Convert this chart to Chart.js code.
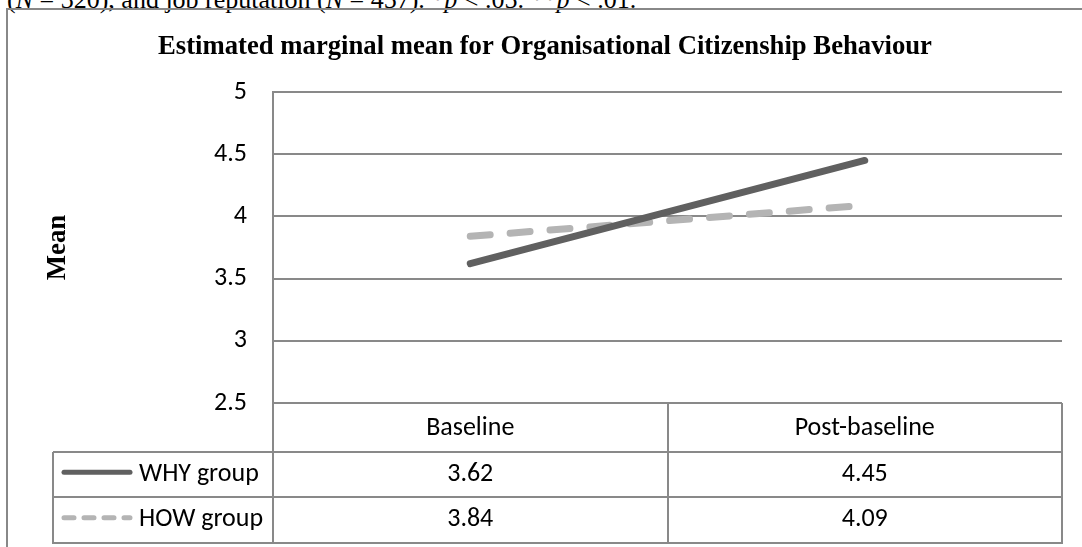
<!DOCTYPE html>
<html>
<head>
<meta charset="utf-8">
<script src="https://cdn.jsdelivr.net/npm/chart.js@4.4.1/dist/chart.umd.min.js"></script>
<style>
  html, body { margin: 0; padding: 0; background: #fff; }
  #page { position: relative; width: 1082px; height: 547px; overflow: hidden; }
  #note {
    position: absolute; left: 7px; top: -13px; white-space: nowrap;
    font: 26px/26px "Liberation Serif", "Times New Roman", serif; color: #000;
  }
  #frame {
    position: absolute; left: 6px; top: 8px; right: -10px; bottom: -10px;
    border-left: 2px solid #888; border-top: 2px solid #888;
  }
  #wrap { position: absolute; left: 0; top: 0; width: 1082px; height: 547px; }
</style>
</head>
<body>
<div id="page">
  <div id="note">(<i>N</i> = 320), and job reputation (<i>N</i> = 457). *<i>p</i> &lt; .05. **<i>p</i> &lt; .01.</div>
  <div id="frame"></div>
  <div id="wrap"><canvas id="chart"></canvas></div>
</div>
<script>
// Estimated marginal means, two groups measured at two time points
const categories = ['Baseline', 'Post-baseline'];
const seriesNames = ['WHY group', 'HOW group'];
const whyGroup = [3.62, 4.45];
const howGroup = [3.84, 4.09];
const yTicks = [2.5, 3, 3.5, 4, 4.5, 5];
const yTickLabels = ['2.5', '3', '3.5', '4', '4.5', '5'];

const gridColor = '#898989';
const whyColor = '#606060';
const howColor = '#b4b4b4';
const sansFont = 'Carlito, Calibri, Lato, sans-serif';
const serifFont = '"Liberation Serif", "Times New Roman", serif';

// Data table under the plot: header row with categories, one row per series
const dataTable = {
  id: 'dataTable',
  afterDraw(chart) {
    const { ctx, chartArea, scales } = chart;
    const x = scales.x;
    const left = chartArea.left, right = chartArea.right;
    const mid = (x.getPixelForValue(0) + x.getPixelForValue(1)) / 2;
    const keyLeft = 53;
    const rows = [chartArea.bottom, chartArea.bottom + 48.5, chartArea.bottom + 94, chartArea.bottom + 139.5];
    const series = chart.data.datasets;

    ctx.save();
    ctx.strokeStyle = gridColor;
    ctx.lineWidth = 2;
    ctx.beginPath();
    // row separators under the header and series rows
    for (let r = 1; r < rows.length; r++) {
      ctx.moveTo(keyLeft, Math.round(rows[r]));
      ctx.lineTo(right + 1, Math.round(rows[r]));
    }
    // column edges
    ctx.moveTo(keyLeft, Math.round(rows[1]));
    ctx.lineTo(keyLeft, Math.round(rows[3]) + 1);
    [left, mid, right].forEach(px => {
      ctx.moveTo(Math.round(px), rows[0]);
      ctx.lineTo(Math.round(px), Math.round(rows[3]) + 1);
    });
    ctx.stroke();

    ctx.font = '26px ' + sansFont;
    ctx.fillStyle = '#000';
    ctx.textBaseline = 'middle';
    series.forEach((ds, i) => {
      const yMid = (rows[i + 1] + rows[i + 2]) / 2;
      // legend key
      ctx.save();
      ctx.strokeStyle = ds.borderColor;
      ctx.lineWidth = 5;
      ctx.lineCap = 'round';
      ctx.setLineDash(ds.borderDash && ds.borderDash.length ? [10, 10] : []);
      ctx.beginPath();
      ctx.moveTo(64, yMid - 2);
      ctx.lineTo(130, yMid - 2);
      ctx.stroke();
      ctx.restore();
      ctx.textAlign = 'left';
      ctx.fillText(ds.label, 139, yMid);
      // values per category
      ctx.textAlign = 'center';
      ds.data.forEach((v, j) => {
        ctx.fillText(v.toFixed(2), x.getPixelForValue(j), yMid);
      });
    });
    ctx.restore();
  }
};

new Chart(document.getElementById('chart'), {
  type: 'line',
  data: {
    labels: categories,
    datasets: [
      {
        label: seriesNames[0], data: whyGroup,
        borderColor: whyColor, borderWidth: 7, borderCapStyle: 'round',
        pointRadius: 0, tension: 0
      },
      {
        label: seriesNames[1], data: howGroup,
        borderColor: howColor, borderWidth: 7, borderCapStyle: 'round',
        borderDash: [20, 20], pointRadius: 0, tension: 0
      }
    ]
  },
  options: {
    responsive: true,
    maintainAspectRatio: false,
    animation: false,
    layout: { padding: { left: 28, right: 20, top: 0, bottom: 0 } },
    plugins: {
      legend: { display: false },
      tooltip: { enabled: false },
      title: {
        display: true,
        text: 'Estimated marginal mean for Organisational Citizenship Behaviour',
        color: '#000',
        font: { family: serifFont, size: 26.7, weight: 'bold', lineHeight: 1.2 },
        padding: { top: 31, bottom: 29 }
      }
    },
    scales: {
      x: {
        type: 'category',
        offset: true,
        grid: { display: false, drawTicks: false },
        border: { display: false },
        ticks: { color: '#000', font: { family: sansFont, size: 26 }, padding: 10, maxRotation: 0 },
        afterFit(scale) { scale.height = 144; }
      },
      y: {
        min: yTicks[0],
        max: yTicks[yTicks.length - 1],
        afterBuildTicks(scale) { scale.ticks = yTicks.map(v => ({ value: v })); },
        grid: { color: gridColor, lineWidth: 2, drawTicks: false },
        border: { display: true, color: gridColor, width: 2 },
        ticks: {
          color: '#000', font: { family: sansFont, size: 26 }, padding: 26,
          callback: (value) => yTickLabels[yTicks.indexOf(value)]
        },
        title: {
          display: true, text: 'Mean', color: '#000',
          font: { family: serifFont, size: 26.7, weight: 'bold', lineHeight: 1.2 },
          padding: { top: 14, bottom: 0 }
        },
        afterFit(scale) { scale.width = 245; }
      }
    }
  },
  plugins: [dataTable]
});
</script>
</body>
</html>
